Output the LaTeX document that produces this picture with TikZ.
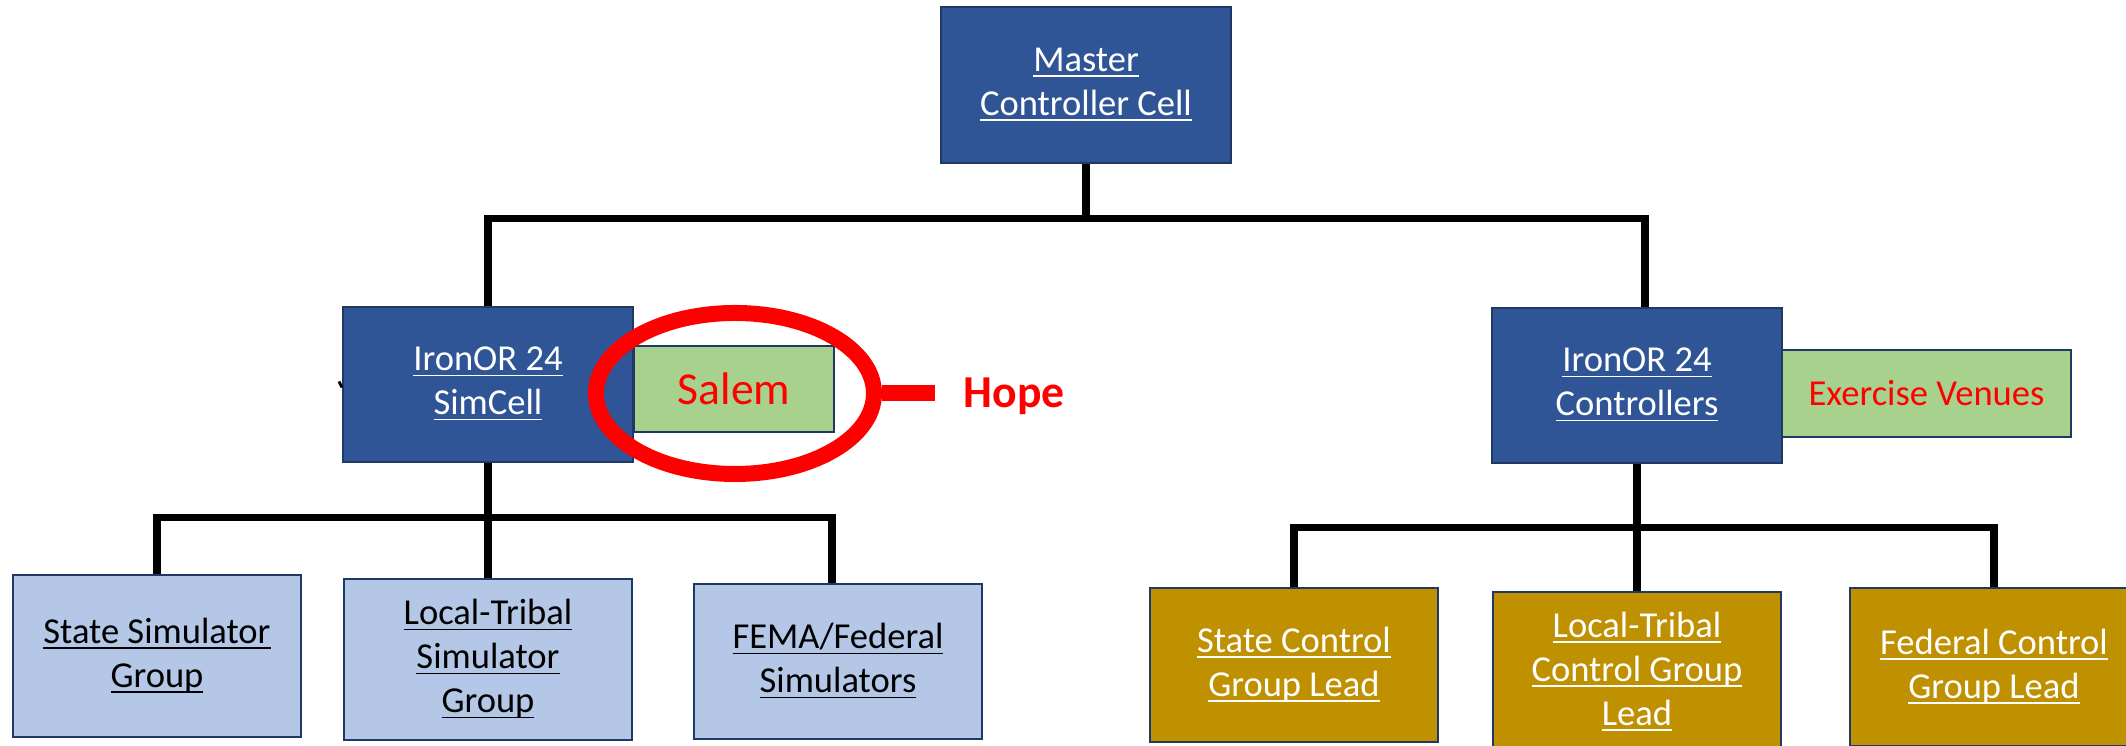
\documentclass[tikz,border=0pt]{standalone}
\usepackage{fontspec}
\setmainfont{Carlito}
\usepackage{tikz}
\usetikzlibrary{calc,shapes.geometric}
\definecolor{cellblue}{HTML}{2F5597}
\definecolor{cellline}{HTML}{203864}
\definecolor{simblue}{HTML}{B4C7E7}
\definecolor{leadgold}{HTML}{BF9000}
\definecolor{venuegreen}{HTML}{A9D18E}
\newcommand{\linkwidth}{2pt}
\newcommand{\ringwidth}{0.16cm}
\newcommand{\ulin}[1]{\underline{\raisebox{0pt}[\height][0pt]{#1}}}
\tikzset{
  orgbox/.style={draw=cellline, line width=0.6pt, rectangle, inner sep=0pt,
    minimum width=2.88cm, minimum height=1.55cm, align=center,
    font=\fontsize{10.4}{12.5}\selectfont},
  darkbox/.style={orgbox, fill=cellblue, text=white},
  simbox/.style={orgbox, fill=simblue, text=black},
  leadbox/.style={orgbox, fill=leadgold, text=white},
  venuebox/.style={orgbox, fill=venuegreen, text=red},
  link/.style={line width=\linkwidth, black},
  ringline/.style={draw=red, line width=\ringwidth},
}

\begin{document}
\begin{tikzpicture}
\useasboundingbox (0.0, 0.0) rectangle (21.26, -7.46);
\clip (0.0, 0.0) rectangle (21.26, -7.46);
%top
\node[darkbox, minimum width=2.90cm, minimum height=1.56cm] (1) at (10.86, -0.85) {\ulin{Master}\\\ulin{Controller Cell}};
%cells
\node[darkbox, minimum width=2.90cm] (2) at (4.88, -3.845) {\ulin{IronOR 24}\\\ulin{SimCell}};
\node[venuebox, minimum width=2.00cm, minimum height=0.86cm, font=\fontsize{13}{15}\selectfont] (3) at (7.34, -3.89) {Salem};
\node[darkbox, minimum width=2.90cm] (4) at (16.37, -3.855) {\ulin{IronOR 24}\\\ulin{Controllers}};
\node[venuebox, minimum width=2.89cm, minimum height=0.87cm] (5) at (19.265, -3.935) {Exercise Venues};
%simulators
\node[simbox, minimum height=1.62cm] (6) at (1.57, -6.56) {\ulin{State Simulator}\\\ulin{Group}};
\node[simbox, minimum height=1.61cm] (7) at (4.88, -6.595) {\ulin{Local-Tribal}\\\ulin{Simulator}\\\ulin{Group}};
\node[simbox] (8) at (8.38, -6.615) {\ulin{FEMA/Federal}\\\ulin{Simulators}};
%leads
\node[leadbox, minimum height=1.54cm] (9) at (12.94, -6.65) {\ulin{State Control}\\\ulin{Group Lead}};
\node[leadbox, minimum height=1.60cm] (10) at (16.37, -6.72) {\ulin{Local-Tribal}\\\ulin{Control Group}\\\ulin{Lead}};
\node[leadbox, minimum height=1.58cm] (11) at (19.94, -6.67) {\ulin{Federal Control}\\\ulin{Group Lead}};
%links
\draw[link] (1.south) -- ++(0.0, -0.54) coordinate (top);
\draw[link] (2.north) |- (top) -| ([xshift=0.08cm]4.north);
\draw[link] (2.south) -- ++(0.0, -0.54) coordinate (simbus);
\draw[link] (6.north) |- (simbus) -| ([xshift=-0.06cm]8.north);
\draw[link] (simbus) -- (7.north);
\draw[link] (4.south) -- ++(0.0, -0.63) coordinate (leadbus);
\draw[link] (9.north) |- (leadbus) -| (11.north);
\draw[link] (leadbus) -- (10.north);
\draw[line width=0.8pt] ([shift={(-0.03, 0.03)}]2.west) -- ([shift={(0.0, -0.03)}]2.west);
%ring
\node[ringline, ellipse, minimum width=2.78cm, minimum height=1.61cm, inner sep=0pt] (ring) at (7.35, -3.935) {};
\node[text=red, font=\fontsize{13}{15}\selectfont\bfseries, inner sep=0pt, anchor=base west] (hope) at (9.63, -4.08) {Hope};
\draw[ringline, shorten >=0.28cm] (ring.east) -- (ring.east -| hope.west);
\end{tikzpicture}
\end{document}
